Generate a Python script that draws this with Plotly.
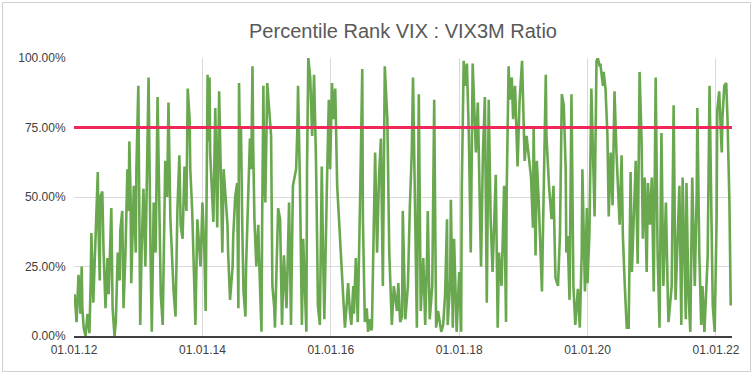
import pandas as pd
import plotly.graph_objects as go

# Decimal-year positions of the readings and the percentile-rank values (in %)
years = [
    2012.01, 2012.04, 2012.07, 2012.10, 2012.12, 2012.13, 2012.15, 2012.18, 2012.21, 2012.24,
    2012.26, 2012.27, 2012.30, 2012.33, 2012.37, 2012.38, 2012.40, 2012.41, 2012.44, 2012.46,
    2012.49, 2012.52, 2012.54, 2012.58, 2012.60, 2012.63, 2012.65, 2012.68, 2012.71, 2012.72,
    2012.75, 2012.77, 2012.80, 2012.83, 2012.85, 2012.86, 2012.88, 2012.89, 2012.93, 2012.96,
    2012.97, 2013.00, 2013.03, 2013.05, 2013.08, 2013.11, 2013.13, 2013.16, 2013.19, 2013.21,
    2013.24, 2013.27, 2013.30, 2013.33, 2013.35, 2013.38, 2013.41, 2013.42, 2013.45, 2013.47,
    2013.50, 2013.53, 2013.55, 2013.58, 2013.61, 2013.64, 2013.66, 2013.69, 2013.72, 2013.75,
    2013.77, 2013.80, 2013.81, 2013.84, 2013.87, 2013.89, 2013.92, 2013.95, 2013.97, 2014.00,
    2014.03, 2014.05, 2014.08, 2014.09, 2014.11, 2014.12, 2014.15, 2014.17, 2014.20, 2014.22,
    2014.23, 2014.26, 2014.28, 2014.31, 2014.33, 2014.36, 2014.39, 2014.40, 2014.43, 2014.47,
    2014.48, 2014.51, 2014.54,
    2014.56, 2014.57, 2014.59, 2014.60, 2014.62, 2014.64, 2014.67, 2014.68, 2014.71, 2014.74,
    2014.76, 2014.78, 2014.79, 2014.81, 2014.84, 2014.87, 2014.88, 2014.92, 2014.93, 2014.95,
    2014.96, 2014.98, 2015.01, 2015.04, 2015.07, 2015.09, 2015.12, 2015.13, 2015.16, 2015.18,
    2015.21, 2015.24, 2015.27, 2015.31, 2015.32, 2015.35, 2015.37, 2015.38, 2015.41, 2015.46,
    2015.48, 2015.49, 2015.52, 2015.55, 2015.57, 2015.60, 2015.62, 2015.63, 2015.65, 2015.68,
    2015.71, 2015.74, 2015.77, 2015.79, 2015.80, 2015.83, 2015.86, 2015.88, 2015.90, 2015.94,
    2015.97, 2015.99, 2016.02, 2016.04, 2016.07, 2016.10, 2016.13, 2016.16, 2016.19, 2016.22,
    2016.25, 2016.27, 2016.30, 2016.32, 2016.35, 2016.36, 2016.39, 2016.42, 2016.46, 2016.49,
    2016.50, 2016.53, 2016.56, 2016.58, 2016.61, 2016.63, 2016.64, 2016.67, 2016.69, 2016.72,
    2016.75, 2016.78, 2016.81, 2016.84, 2016.88, 2016.91, 2016.94, 2016.95, 2016.98, 2017.03,
    2017.05, 2017.08, 2017.11,
    2017.12, 2017.16, 2017.19, 2017.20, 2017.23, 2017.26, 2017.28, 2017.31, 2017.34, 2017.37,
    2017.40, 2017.44, 2017.47, 2017.50, 2017.51, 2017.54, 2017.58, 2017.61, 2017.64, 2017.67,
    2017.70, 2017.72, 2017.75, 2017.78, 2017.81, 2017.82, 2017.86, 2017.87, 2017.90, 2017.92,
    2017.95, 2017.96, 2018.00, 2018.03, 2018.04, 2018.07, 2018.10, 2018.12, 2018.15, 2018.18,
    2018.21, 2018.23, 2018.26, 2018.29, 2018.31, 2018.34, 2018.37, 2018.40, 2018.43, 2018.46,
    2018.49, 2018.52, 2018.54, 2018.57, 2018.60, 2018.62, 2018.66, 2018.70, 2018.73, 2018.74,
    2018.77, 2018.79, 2018.82, 2018.84, 2018.87, 2018.90, 2018.91, 2018.94, 2018.98, 2018.99,
    2019.02, 2019.05, 2019.08, 2019.12, 2019.15, 2019.16, 2019.19, 2019.21, 2019.24, 2019.29,
    2019.30, 2019.35, 2019.36, 2019.40, 2019.44, 2019.47, 2019.50, 2019.54, 2019.57, 2019.60,
    2019.63, 2019.66,
    2019.67, 2019.69, 2019.72, 2019.75, 2019.78, 2019.81, 2019.85, 2019.88, 2019.91, 2019.92,
    2019.96, 2019.99, 2020.00, 2020.03, 2020.06, 2020.08, 2020.11, 2020.14, 2020.16, 2020.19,
    2020.20, 2020.24, 2020.25, 2020.28, 2020.31, 2020.33, 2020.36, 2020.39, 2020.42, 2020.45,
    2020.47, 2020.50, 2020.53, 2020.55, 2020.58, 2020.61, 2020.64, 2020.67, 2020.69, 2020.72,
    2020.75, 2020.78, 2020.81, 2020.84, 2020.86, 2020.89, 2020.92, 2020.94, 2020.97, 2021.00,
    2021.03, 2021.06, 2021.09, 2021.12, 2021.15, 2021.18, 2021.22, 2021.25, 2021.26, 2021.31,
    2021.34, 2021.37, 2021.40, 2021.43, 2021.46, 2021.48, 2021.53, 2021.54, 2021.57, 2021.60,
    2021.63, 2021.67, 2021.70, 2021.71, 2021.74, 2021.77, 2021.79, 2021.82, 2021.87, 2021.90,
    2021.93, 2021.95, 2021.98, 2022.01, 2022.02, 2022.05, 2022.09, 2022.10, 2022.13, 2022.16,
    2022.18, 2022.21, 2022.23,
]

pct_rank = [
    15, 5, 22, 8, 25, 10, 3, 0, 8, 1,
    20, 37, 12, 30, 59, 40, 20, 50, 52, 30,
    10, 28, 15, 46, 10, 0, 5, 30, 20, 38,
    45, 10, 30, 60, 45, 70, 50, 19, 54, 30,
    60, 90, 4, 30, 53, 25, 60, 93, 30, 1.5,
    48, 30, 86, 33, 15, 4, 40, 63, 50, 84,
    42, 25, 16, 7, 46, 65, 40, 35, 61, 45,
    89, 78, 60, 45, 20, 4, 42, 30, 25, 48,
    30, 9, 94, 70, 93, 66, 50, 41, 82, 60,
    39, 88, 60, 30, 60, 50, 40, 30, 13, 25,
    36, 50, 55,
    10, 91, 60, 75, 40, 16, 7, 25, 48, 71,
    60, 97, 70, 42, 25, 40, 30, 1.5, 40, 90,
    60, 48, 91, 82, 72, 18, 10, 3, 30, 46,
    42, 4, 29, 10, 18, 48, 20, 4, 54, 60,
    75, 90, 54, 4, 35, 10, 1.5, 60, 100, 93,
    72, 94, 63, 30, 11, 4, 61, 30, 6, 54,
    85, 60, 91, 78, 89, 54, 42, 30, 16, 3,
    12, 19, 8, 4, 18, 8, 28, 5, 54, 96,
    42, 5, 10, 1.5, 6, 2, 3, 40, 66, 30,
    57, 71, 18, 97, 78, 30, 10, 4, 18, 9,
    19, 5, 7,
    45, 6, 15, 18, 46, 66, 93, 42, 3, 87,
    9, 28, 4, 30, 45, 6, 18, 85, 3, 9,
    4, 1.5, 4, 15, 42, 4, 20, 49, 3, 35,
    10, 1.5, 23, 1.5, 53, 99, 90, 98, 72, 30,
    98, 84, 66, 84, 57, 25, 66, 86, 12, 85,
    42, 23, 37, 58, 3, 30, 18, 54, 5, 52,
    97, 85, 93, 78, 90, 66, 61, 84, 99, 90,
    63, 72, 66, 57, 39, 75, 29, 63, 48, 16,
    30, 94, 72, 54, 42, 54, 21, 18, 36, 87,
    83, 60,
    30, 36, 13, 87, 18, 4, 17, 3, 30, 60,
    16, 46, 19, 37, 89, 72, 43, 99, 100, 97,
    98, 90, 95, 89, 72, 43, 66, 47, 88, 66,
    57, 40, 65, 36, 18, 3, 3, 59, 23, 42,
    63, 26, 95, 71, 35, 57, 23, 55, 40, 57,
    16, 93, 30, 3, 73, 18, 48, 13, 5, 18,
    83, 13, 33, 54, 4, 57, 6, 55, 16, 1.5,
    57, 18, 52, 82, 30, 4, 18, 1.5, 28, 90,
    42, 11, 1.5, 42, 81, 88, 66, 78, 90, 91,
    78, 48, 11,
]

threshold = 75  # %
axis_start = 2012.0
axis_end = 2022.25

assert len(years) == len(pct_rank), (len(years), len(pct_rank))


def to_date(y):
    yr = int(y)
    start = pd.Timestamp(yr, 1, 1)
    end = pd.Timestamp(yr + 1, 1, 1)
    return start + (end - start) * (y - yr)


dates = [to_date(y) for y in years]
x0, x1 = to_date(axis_start), to_date(axis_end)

fig = go.Figure()
fig.add_trace(go.Scatter(
    x=dates, y=[v / 100 for v in pct_rank], mode="lines",
    line=dict(color="#6AA84F", width=2.6), hoverinfo="skip",
))
fig.add_trace(go.Scatter(
    x=[x0, x1], y=[threshold / 100] * 2, mode="lines",
    line=dict(color="#F0285A", width=3), hoverinfo="skip", cliponaxis=False,
))

L, R, T, B = 74, 21, 58, 40
W, H = 753, 376
pw, ph = W - L - R, H - T - B

fig.update_layout(
    width=W, height=H,
    margin=dict(l=L, r=R, t=T, b=B),
    paper_bgcolor="white", plot_bgcolor="white",
    showlegend=False,
    font=dict(family="Liberation Sans, Arial, sans-serif", size=12, color="#404040"),
    title=dict(
        text="Percentile Rank VIX : VIX3M Ratio",
        x=0.5, xanchor="center", xref="paper",
        y=1 - 31 / H, yanchor="middle",
        font=dict(family="Liberation Sans, Arial, sans-serif", size=20, color="#595959"),
    ),
    xaxis=dict(
        type="date", range=[x0, x1],
        tick0="2012-01-01", dtick="M24", tickformat="%d.%m.%y",
        showgrid=True, gridcolor="#d9d9d9", gridwidth=1,
        showline=True, linecolor="#404040", linewidth=1.5,
        ticks="outside", ticklen=2, tickcolor="rgba(0,0,0,0)",
        zeroline=False,
        tickfont=dict(size=12, color="#404040"),
    ),
    yaxis=dict(
        range=[0, 1], tickvals=[0, 0.25, 0.5, 0.75, 1.0], tickformat=".2%",
        showgrid=True, gridcolor="#d9d9d9", gridwidth=1,
        showline=False, zeroline=False,
        ticks="outside", ticklen=5, tickcolor="rgba(0,0,0,0)",
        tickfont=dict(size=12, color="#404040"),
    ),
    shapes=[dict(
        type="rect", xref="paper", yref="paper",
        x0=(2.5 - L) / pw, x1=(750.5 - L) / pw,
        y0=(H - B - 371.5) / ph, y1=(H - B - 2.5) / ph,
        line=dict(color="#d0d0d0", width=1), layer="below",
    )],
)

fig.write_html(
    "out.html",
    config={"displayModeBar": False, "staticPlot": True},
    post_script="document.body.style.margin='0';document.body.style.overflow='hidden';",
)
